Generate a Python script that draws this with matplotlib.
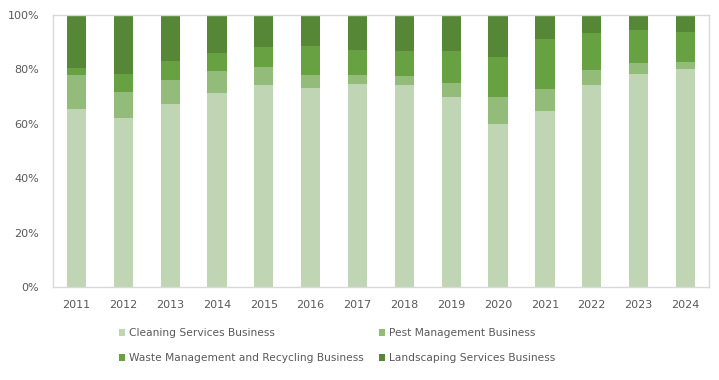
import matplotlib
matplotlib.use('Agg')
import matplotlib.pyplot as plt
import numpy as np

years = ['2011', '2012', '2013', '2014', '2015', '2016', '2017',
         '2018', '2019', '2020', '2021', '2022', '2023', '2024']
cleaning = [65.4, 62.1, 67.3, 71.3, 74.3, 73.2, 74.6, 74.3, 69.9, 59.9, 64.7, 74.3, 78.3, 80.1]
pest = [12.5, 9.6, 8.8, 8.1, 6.6, 4.8, 3.3, 3.3, 5.1, 9.9, 8.1, 5.5, 4.0, 2.6]
waste = [2.6, 6.6, 7.0, 6.6, 7.4, 10.7, 9.2, 9.2, 11.8, 14.7, 18.4, 13.6, 12.1, 11.0]
landscaping = [19.5, 21.7, 16.9, 14.0, 11.8, 11.4, 12.9, 13.2, 13.2, 15.4, 8.8, 6.6, 5.5, 6.3]

series = [
    ('Cleaning Services Business', cleaning, '#bfd5b4'),
    ('Pest Management Business', pest, '#93bb7a'),
    ('Waste Management and Recycling Business', waste, '#68a141'),
    ('Landscaping Services Business', landscaping, '#558737'),
]

fig = plt.figure(figsize=(7.19, 3.80), dpi=100)
ax = fig.add_axes([0.0737, 0.2447, 0.9123, 0.7158])

x = np.arange(len(years))
bottom = np.zeros(len(years))
for name, vals, color in series:
    vals = np.array(vals)
    ax.bar(x, vals, 0.41, bottom=bottom, color=color, label=name, zorder=2)
    bottom += vals

ax.set_xlim(-0.5, len(years) - 0.5)
ax.set_ylim(0, 100)
ax.set_yticks(range(0, 101, 20))
ax.set_yticklabels([f'{v}%' for v in range(0, 101, 20)])
ax.set_xticks(x)
ax.set_xticklabels(years)
ax.tick_params(length=0, labelsize=8, colors='#595959')
ax.tick_params(axis='x', pad=9)
ax.tick_params(axis='y', pad=10)
for s in ax.spines.values():
    s.set_color('#d9d9d9')
    s.set_linewidth(1)

# legend fills row by row in the reference: reorder for matplotlib's column fill
handles, labels = ax.get_legend_handles_labels()
order = [0, 2, 1, 3]
fig.legend([handles[i] for i in order], [labels[i] for i in order],
           loc='upper left', bbox_to_anchor=(0.152, 0.161),
           ncol=2, frameon=False, fontsize=7.7, labelcolor='#595959',
           handlelength=0.6, handleheight=0.6, handletextpad=0.35,
           columnspacing=1.4, labelspacing=1.35)

fig.savefig('out.png', dpi=100)
